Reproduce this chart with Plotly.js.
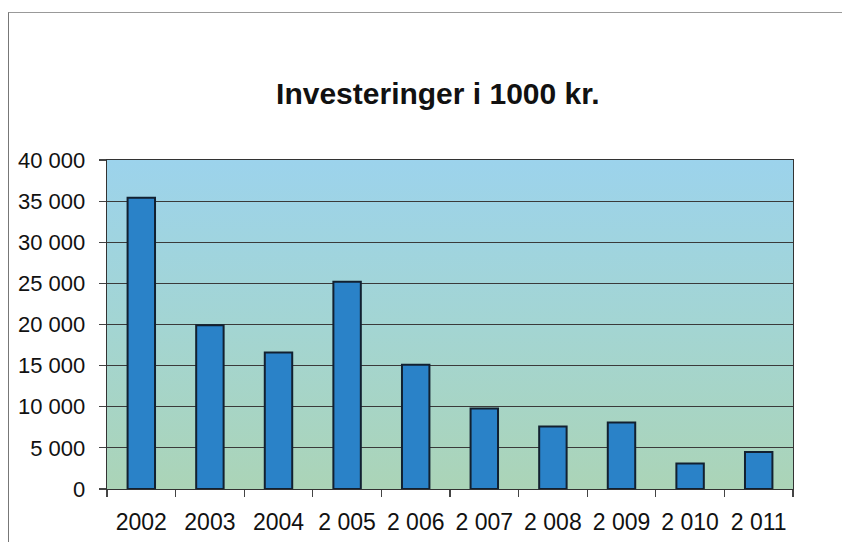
<!DOCTYPE html>
<html>
<head>
<meta charset="utf-8">
<script src="https://cdn.plot.ly/plotly-3.0.1.min.js"></script>
<style>
  html, body { margin: 0; padding: 0; background: #ffffff; overflow: hidden; width: 842px; height: 542px; }
  #chart { width: 842px; height: 542px; position: absolute; left: 0; top: 0; }
  #frame { position: absolute; left: 8px; top: 12px; width: 834px; height: 530px;
           border-left: 1.5px solid #777; border-top: 1.5px solid #999; pointer-events: none; box-sizing: border-box; }
</style>
</head>
<body>
<div id="chart"></div>
<div id="frame"></div>
<script>
const categories = ["2002", "2003", "2004", "2 005", "2 006", "2 007", "2 008", "2 009", "2 010", "2 011"];
const values = [35400, 19900, 16600, 25200, 15100, 9800, 7600, 8100, 3100, 4500];
const yTickVals = [0, 5000, 10000, 15000, 20000, 25000, 30000, 35000, 40000];
const yTickText = ["0", "5 000", "10 000", "15 000", "20 000", "25 000", "30 000", "35 000", "40 000"];

const bgSvg = '<svg xmlns="http://www.w3.org/2000/svg" width="100" height="100" preserveAspectRatio="none">' +
  '<defs><linearGradient id="g" x1="0" y1="0" x2="0" y2="1">' +
  '<stop offset="0" stop-color="#9cd3ec"/><stop offset="0.5" stop-color="#a3d5d3"/>' +
  '<stop offset="1" stop-color="#abd4b7"/></linearGradient></defs>' +
  '<rect width="100" height="100" fill="url(#g)"/></svg>';
const bgUri = "data:image/svg+xml;charset=utf-8," + encodeURIComponent(bgSvg);

const trace = {
  type: "bar",
  x: categories,
  y: values,
  width: 0.4,
  marker: { color: "#2a82c8", line: { color: "#122030", width: 2 } },
  hoverinfo: "x+y"
};

const layout = {
  width: 842, height: 542,
  margin: { l: 107, r: 49, t: 160, b: 53 },
  paper_bgcolor: "#ffffff",
  plot_bgcolor: "rgba(0,0,0,0)",
  showlegend: false,
  bargap: 0.6,
  title: {
    text: "<b>Investeringer i 1000 kr.</b>",
    font: { family: "Liberation Sans, Arial, sans-serif", size: 30, color: "#111" },
    x: 0.52, xanchor: "center", y: 0.828, yanchor: "middle"
  },
  images: [{
    source: bgUri, xref: "paper", yref: "paper", x: 0, y: 1, sizex: 1, sizey: 1,
    xanchor: "left", yanchor: "top", sizing: "stretch", layer: "below"
  }],
  xaxis: {
    type: "category",
    tickson: "boundaries",
    ticks: "outside", ticklen: 7, tickcolor: "#444", tickwidth: 1.2,
    showline: true, linecolor: "#333", linewidth: 1.3, mirror: true,
    showgrid: false,
    tickfont: { family: "Liberation Sans, Arial, sans-serif", size: 23, color: "#111" },
    ticklabelstandoff: 12
  },
  yaxis: {
    range: [0, 40000],
    tickvals: yTickVals, ticktext: yTickText,
    ticks: "outside", ticklen: 7, tickcolor: "#444", tickwidth: 1.2,
    showline: true, linecolor: "#333", linewidth: 1.3, mirror: true,
    showgrid: true, gridcolor: "#3a3a3a", gridwidth: 1,
    zeroline: false,
    tickfont: { family: "Liberation Sans, Arial, sans-serif", size: 22, color: "#111" },
    ticklabelstandoff: 9
  }
};

Plotly.newPlot("chart", [trace], layout, { displayModeBar: false, staticPlot: true });
</script>
</body>
</html>
